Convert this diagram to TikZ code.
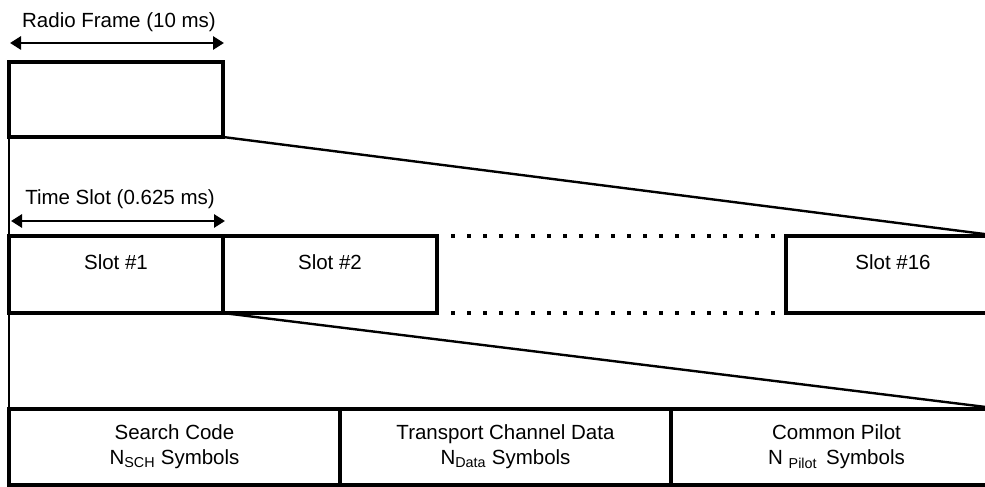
\documentclass[tikz,border=0pt]{standalone}
\usepackage{fontspec}
\setmainfont{Liberation Sans}
\usetikzlibrary{arrows.meta}

\begin{document}
\begin{tikzpicture}[x=1bp,y=-1bp,
  font=\fontsize{20.5bp}{25bp}\selectfont,
  box/.style={draw,line width=3.4bp,outer sep=0pt,inner sep=0pt,anchor=north west},
  slotbox/.style={box,minimum width=214bp,minimum height=77bp,text height=15bp,text depth=25bp},
  fieldbox/.style={box,minimum width=331bp,minimum height=76bp,align=center},
  dimarrow/.style={{Triangle[length=11bp,width=13bp]}-{Triangle[length=11bp,width=13bp]},line width=2.8bp},
  link/.style={line width=2.4bp},
  dotline/.style={line width=4bp,dash pattern=on 4bp off 12bp,shorten <=14bp,shorten >=10bp}]
  \useasboundingbox (0,0) rectangle (985,487);

  \node[box,minimum width=214bp,minimum height=75bp] (frame) at (9,62) {};

  \node[slotbox] (slot1) at (9,236) {Slot \#1};
  \node[slotbox] (slot2) at (slot1.north east) {Slot \#2};
  \node[slotbox] (slot16) at (786,236) {Slot \#16};

  \node[fieldbox] (sch) at (9,409) {Search Code\\N\textsubscript{SCH} Symbols};
  \node[fieldbox] (data) at (sch.north east) {Transport Channel Data\\N\textsubscript{Data} Symbols};
  \node[fieldbox] (pilot) at (data.north east) {Common Pilot\\N \textsubscript{Pilot}\, Symbols};

  \coordinate (rfL) at ([xshift=1bp,yshift=19bp]frame.north west);
  \coordinate (rfR) at ([xshift=1bp,yshift=19bp]frame.north east);
  \draw[dimarrow] (rfL) -- (rfR);
  \node[anchor=base] (rflabel) at (119,28) {Radio Frame (10 ms)};

  \coordinate (tsL) at ([xshift=2bp,yshift=15bp]slot1.north west);
  \coordinate (tsR) at ([xshift=2bp,yshift=15bp]slot1.north east);
  \draw[dimarrow] (tsL) -- (tsR);
  \node[anchor=base] (tslabel) at (120,205) {Time Slot (0.625 ms)};

  \draw[link] (frame.south west) -- (slot1.north west);
  \draw[link] (frame.south east) -- (slot16.north east);
  \draw[link] (slot1.south west) -- (sch.north west);
  \draw[link] (slot1.south east) -- (pilot.north east);

  \draw[dotline] (slot2.north east) -- (slot16.north west);
  \draw[dotline] (slot2.south east) -- (slot16.south west);
\end{tikzpicture}
\end{document}
